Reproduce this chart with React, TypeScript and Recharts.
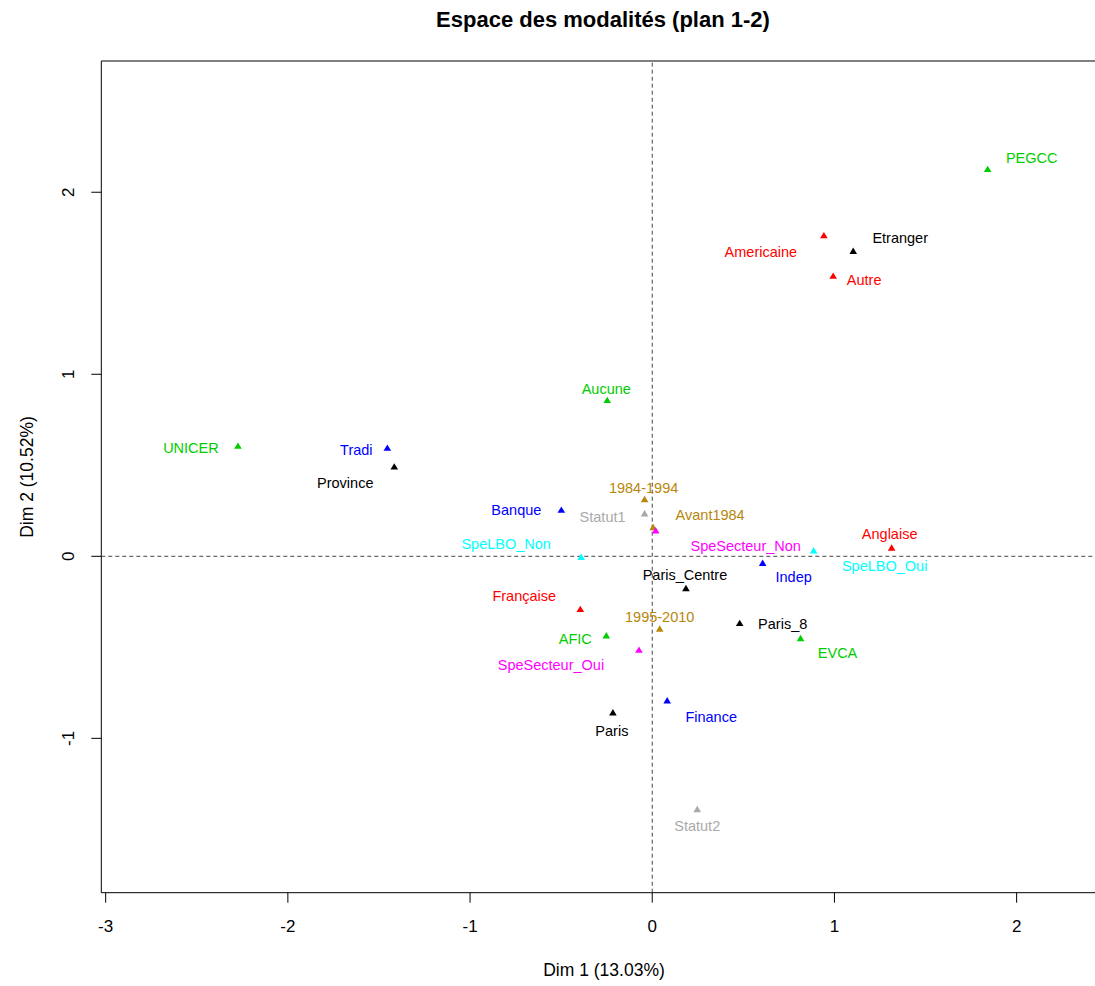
import React from 'react';
import { ScatterChart, Scatter, XAxis, YAxis, ReferenceLine, ReferenceArea } from 'recharts';

// MCA category coordinates (plan 1-2)
const categories = [
  'PEGCC', 'Americaine', 'Etranger', 'Autre', 'Aucune', 'UNICER', 'Tradi', 'Province',
  'Banque', '1984-1994', 'Statut1', 'Avant1984', 'SpeSecteur_Non', 'SpeLBO_Non', 'SpeLBO_Oui',
  'Anglaise', 'Indep', 'Paris_Centre', 'Française', '1995-2010', 'Paris_8', 'AFIC', 'EVCA',
  'SpeSecteur_Oui', 'Finance', 'Paris', 'Statut2',
];
const variables = [
  'Association', 'Nationalite', 'Localisation', 'Nationalite', 'Association', 'Association', 'Type', 'Localisation',
  'Type', 'Periode', 'Statut', 'Periode', 'SpeSecteur', 'SpeLBO', 'SpeLBO',
  'Nationalite', 'Type', 'Localisation', 'Nationalite', 'Periode', 'Localisation', 'Association', 'Association',
  'SpeSecteur', 'Type', 'Localisation', 'Statut',
];
const dim1 = [
  1.841, 0.942, 1.103, 0.993, -0.247, -2.274, -1.454, -1.416,
  -0.499, -0.042, -0.042, 0.005, 0.019, -0.390, 0.886,
  1.314, 0.606, 0.185, -0.395, 0.041, 0.480, -0.252, 0.814,
  -0.073, 0.082, -0.216, 0.247,
];
const dim2 = [
  2.126, 1.762, 1.676, 1.540, 0.857, 0.606, 0.595, 0.492,
  0.254, 0.313, 0.234, 0.159, 0.141, -0.005, 0.031,
  0.046, -0.038, -0.176, -0.291, -0.399, -0.368, -0.436, -0.451,
  -0.515, -0.793, -0.859, -1.390,
];
const xTicks = [-3, -2, -1, 0, 1, 2];
const yTicks = [-1, 0, 1, 2];

// colours per variable (FactoMineR palette)
const colors: Record<string, string> = {
  Localisation: '#000000',
  Nationalite: '#FF0000',
  Association: '#00CD00',
  Type: '#0000FF',
  SpeLBO: '#00FFFF',
  SpeSecteur: '#FF00FF',
  Statut: '#A9A9A9',
  Periode: '#B8860B',
};

// label placement relative to the marker (px)
const labelOffset: Record<string, [number, number]> = {
  PEGCC: [44, -11],
  Americaine: [-63, 16],
  Etranger: [47, -13],
  Autre: [31, 4],
  Aucune: [-1, -11],
  UNICER: [-47, 2],
  Tradi: [-31, 2],
  Province: [-49, 16],
  Banque: [-45, 0],
  '1984-1994': [-1, -11],
  Statut1: [-42, 3],
  Avant1984: [57, -12],
  SpeSecteur_Non: [90, 15],
  SpeLBO_Non: [-75, -13],
  SpeLBO_Oui: [71, 15],
  Anglaise: [-2, -14],
  Indep: [31, 14],
  Paris_Centre: [-1, -13],
  'Française': [-56, -13],
  '1995-2010': [0, -12],
  Paris_8: [43, 1],
  AFIC: [-31, 3],
  EVCA: [37, 15],
  SpeSecteur_Oui: [-88, 15],
  Finance: [44, 16],
  Paris: [-1, 18],
  Statut2: [0, 17],
};

const X_MIN = -3.024;
const X_MAX = 2.496;
const Y_MIN = -1.848;
const Y_MAX = 2.721;

const FONT = '"Liberation Sans", Arial, sans-serif';
const AXIS_FONT = 17;

const data = categories.map((name, i) => ({
  name,
  group: variables[i],
  x: dim1[i],
  y: dim2[i],
}));

const renderPoint = (props: any) => {
  const { cx, cy, payload } = props;
  if (cx == null || cy == null) return <g />;
  const color = colors[payload.group];
  const [dx, dy] = labelOffset[payload.name] || [0, -12];
  return (
    <g>
      <polygon
        points={`${cx},${cy - 3.6} ${cx - 3.8},${cy + 2.8} ${cx + 3.8},${cy + 2.8}`}
        fill={color}
      />
      <text
        x={cx + dx}
        y={cy + dy}
        textAnchor="middle"
        dominantBaseline="central"
        fill={color}
        fontSize={14.5}
        fontFamily={FONT}
      >
        {payload.name}
      </text>
    </g>
  );
};

const renderXTick = (props: any) => {
  const { x, payload } = props;
  return (
    <text x={x} y={926} textAnchor="middle" dominantBaseline="central" fontSize={AXIS_FONT} fontFamily={FONT} fill="#000">
      {payload.value}
    </text>
  );
};

const renderYTick = (props: any) => {
  const { y, payload } = props;
  return (
    <text
      x={69}
      y={y}
      textAnchor="middle"
      dominantBaseline="central"
      fontSize={AXIS_FONT}
      fontFamily={FONT}
      fill="#000"
      transform={`rotate(-90, 69, ${y})`}
    >
      {payload.value}
    </text>
  );
};

export default function App() {
  return (
    <div style={{ position: 'relative', width: 1095, height: 986, overflow: 'hidden', background: '#fff', fontFamily: FONT }}>
      <style>{'body{margin:0;}'}</style>
      <div
        style={{
          position: 'absolute', left: 603, top: 7, transform: 'translateX(-50%)',
          fontSize: 22, fontWeight: 'bold', whiteSpace: 'nowrap', lineHeight: '26px',
        }}
      >
        Espace des modalités (plan 1-2)
      </div>
      <div
        style={{
          position: 'absolute', left: 604, top: 960, transform: 'translateX(-50%)',
          fontSize: 17.5, whiteSpace: 'nowrap', lineHeight: '20px',
        }}
      >
        Dim 1 (13.03%)
      </div>
      <div
        style={{
          position: 'absolute', left: 27, top: 477, transform: 'translate(-50%, -50%) rotate(-90deg)',
          fontSize: 17.5, whiteSpace: 'nowrap', lineHeight: '20px',
        }}
      >
        Dim 2 (10.52%)
      </div>
      <ScatterChart
        width={1115}
        height={986}
        margin={{ top: 61, right: 8, left: 30.3, bottom: 53.3 }}
        style={{ position: 'absolute', left: 0, top: 0 }}
      >
        <XAxis
          type="number"
          dataKey="x"
          domain={[X_MIN, X_MAX]}
          ticks={xTicks}
          allowDataOverflow
          axisLine={false}
          tickLine={{ stroke: '#000' }}
          tickSize={10}
          height={40}
          tick={renderXTick}
        />
        <YAxis
          type="number"
          dataKey="y"
          domain={[Y_MIN, Y_MAX]}
          ticks={yTicks}
          allowDataOverflow
          axisLine={false}
          tickLine={{ stroke: '#000' }}
          tickSize={10}
          width={71}
          tick={renderYTick}
        />
        <ReferenceArea x1={X_MIN} x2={X_MAX} y1={Y_MIN} y2={Y_MAX} fill="none" stroke="#000" strokeWidth={1} />
        <ReferenceLine x={0} stroke="#444" strokeDasharray="4 3" />
        <ReferenceLine y={0} stroke="#444" strokeDasharray="4 3" />
        <Scatter data={data} shape={renderPoint} isAnimationActive={false} />
      </ScatterChart>
    </div>
  );
}
